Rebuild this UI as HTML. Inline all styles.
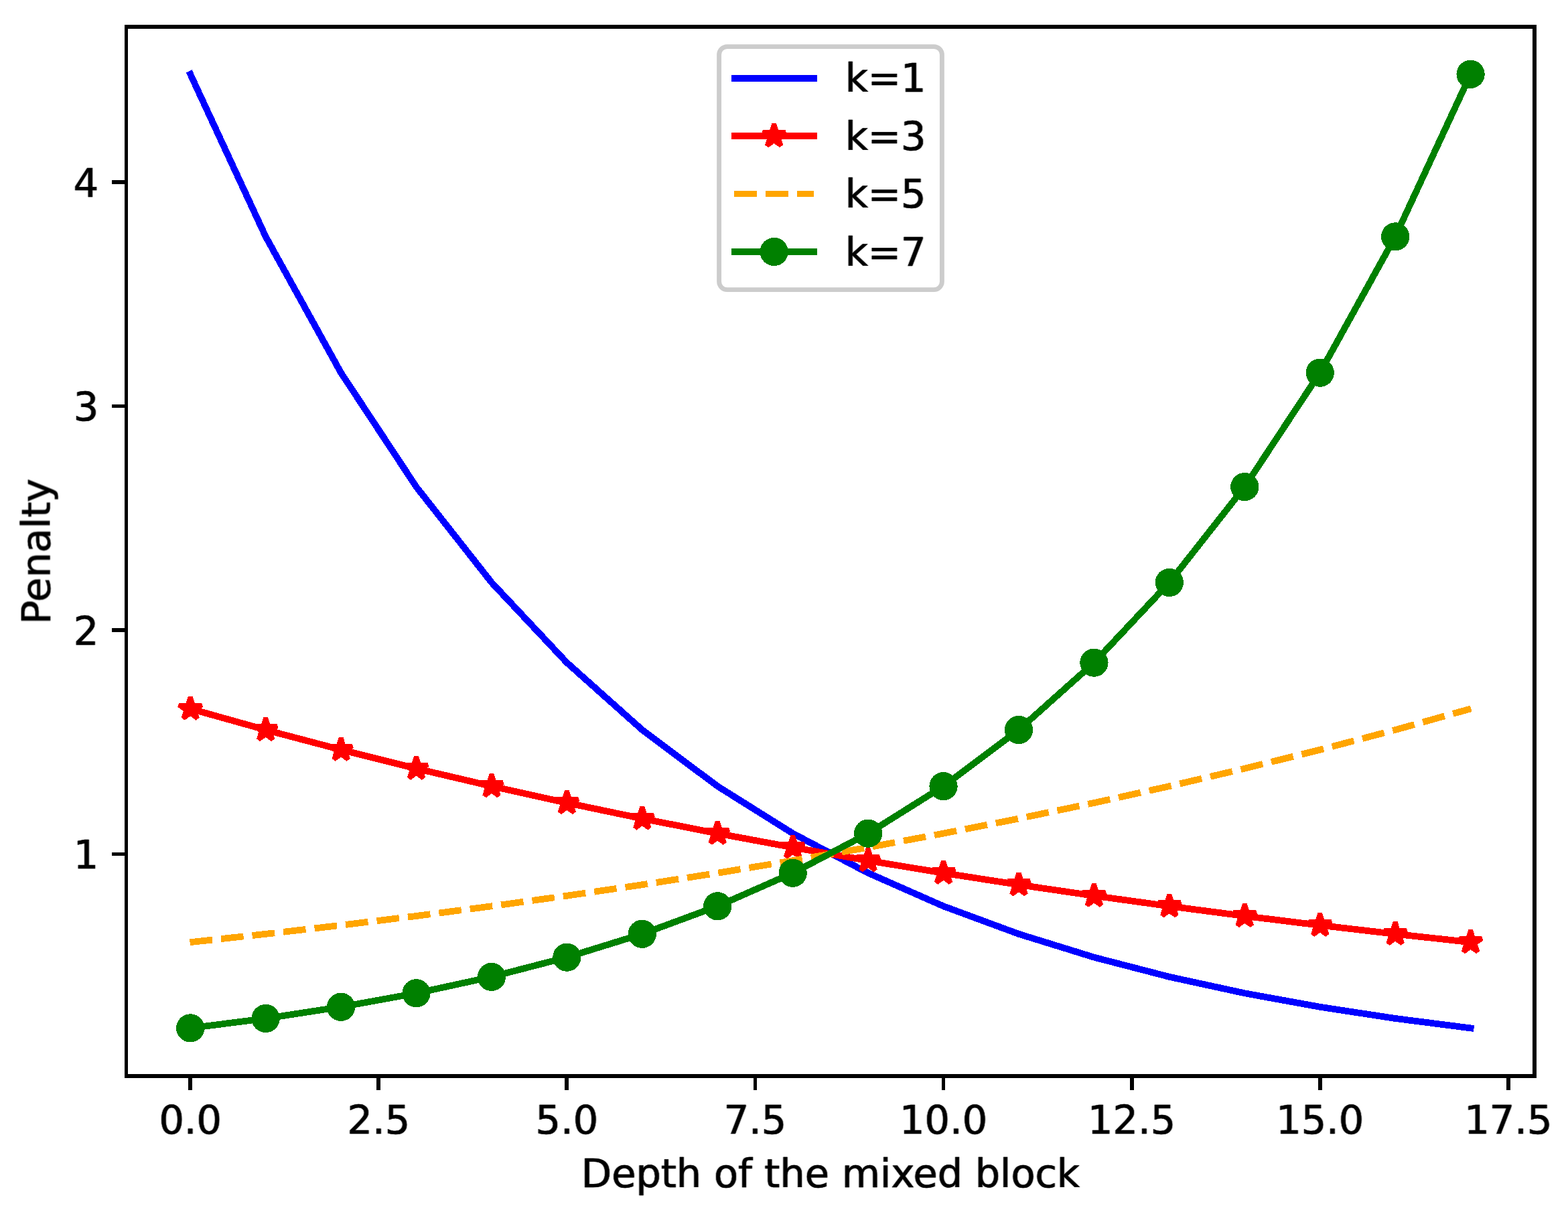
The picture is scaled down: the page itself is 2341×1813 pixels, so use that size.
<!DOCTYPE html>
<html lang="en"><head><meta charset="utf-8"><title>Penalty vs depth of the mixed block</title>
<style>html,body{margin:0;padding:0;background:#fff}body{width:2341px;height:1813px;overflow:hidden}svg{display:block}text{font-family:"DejaVu Sans","Liberation Sans",sans-serif;font-size:58.89px;fill:#000;stroke:#000;stroke-width:0.5px;stroke-linejoin:round;filter:url(#hb)}</style></head><body>
<svg width="2341" height="1813" viewBox="0 0 2341 1813">
<defs><filter id="hb" x="-5%" y="-25%" width="110%" height="150%" color-interpolation-filters="sRGB"><feMorphology operator="dilate" radius="1 0" result="d"/><feComponentTransfer in="d" result="e"><feFuncA type="linear" slope="0.3"/></feComponentTransfer><feMerge><feMergeNode in="e"/><feMergeNode in="SourceGraphic"/></feMerge></filter></defs>
<rect width="2341" height="1813" fill="#fff"/>
<g fill="#000" shape-rendering="crispEdges">
<rect x="281" y="1607" width="6" height="21"/>
<rect x="562" y="1607" width="6" height="21"/>
<rect x="843" y="1607" width="6" height="21"/>
<rect x="1125" y="1607" width="5" height="21"/>
<rect x="1406" y="1607" width="5" height="21"/>
<rect x="1687" y="1607" width="6" height="21"/>
<rect x="1968" y="1607" width="6" height="21"/>
<rect x="2249" y="1607" width="6" height="21"/>
<rect x="167" y="1273" width="21" height="5"/>
<rect x="167" y="938" width="21" height="6"/>
<rect x="167" y="604" width="21" height="5"/>
<rect x="167" y="269" width="21" height="6"/>
</g>
<g text-anchor="middle">
<text x="284.22" y="1692.6">0.0</text>
<text x="565.3" y="1692.6">2.5</text>
<text x="846.38" y="1692.6">5.0</text>
<text x="1127.47" y="1692.6">7.5</text>
<text x="1408.55" y="1692.6">10.0</text>
<text x="1689.63" y="1692.6">12.5</text>
<text x="1970.72" y="1692.6">15.0</text>
<text x="2251.8" y="1692.6">17.5</text>
</g>
<g text-anchor="end">
<text x="147.3" y="1297.35">1</text>
<text x="147.3" y="962.84">2</text>
<text x="147.3" y="628.32">3</text>
<text x="147.3" y="293.81">4</text>
</g>
<text x="1239.9" y="1772.6" text-anchor="middle">Depth of the mixed block</text>
<text transform="translate(74.5 823.5) rotate(-90)" text-anchor="middle">Penalty</text>
<g fill="none" stroke-width="9.8" stroke-linejoin="round" shape-rendering="crispEdges">
<polyline points="284.22,110.84 396.65,353.37 509.08,556.67 621.52,727.08 733.95,869.92 846.38,989.65 958.82,1090.01 1071.25,1174.14 1183.68,1244.65 1296.12,1303.76 1408.55,1353.31 1520.98,1394.84 1633.42,1429.65 1745.85,1458.83 1858.28,1483.29 1970.72,1503.79 2083.15,1520.98 2195.58,1535.38" stroke="#0000ff" stroke-linecap="square"/>
<polyline points="284.22,1058.5 396.65,1090.01 509.08,1119.72 621.52,1147.73 733.95,1174.14 846.38,1199.04 958.82,1222.51 1071.25,1244.65 1183.68,1265.52 1296.12,1285.2 1408.55,1303.76 1520.98,1321.26 1633.42,1337.75 1745.85,1353.31 1858.28,1367.97 1970.72,1381.8 2083.15,1394.84 2195.58,1407.13" stroke="#ff0000" stroke-linecap="square"/>
</g>
<g fill="#ff0000" stroke="#ff0000" stroke-width="6.9" stroke-linejoin="bevel" shape-rendering="crispEdges">
<path d="M284.22 1040.83 L280.25 1053.04 L267.41 1053.04 L277.8 1060.59 L273.83 1072.8 L284.22 1065.25 L294.6 1072.8 L290.64 1060.59 L301.02 1053.04 L288.19 1053.04Z"/>
<path d="M396.65 1072.34 L392.68 1084.55 L379.85 1084.55 L390.23 1092.1 L386.27 1104.31 L396.65 1096.76 L407.04 1104.31 L403.07 1092.1 L413.46 1084.55 L400.62 1084.55Z"/>
<path d="M509.08 1102.05 L505.12 1114.26 L492.28 1114.26 L502.67 1121.8 L498.7 1134.01 L509.08 1126.47 L519.47 1134.01 L515.5 1121.8 L525.89 1114.26 L513.05 1114.26Z"/>
<path d="M621.52 1130.06 L617.55 1142.27 L604.71 1142.27 L615.1 1149.81 L611.13 1162.02 L621.52 1154.48 L631.9 1162.02 L627.94 1149.81 L638.32 1142.27 L625.48 1142.27Z"/>
<path d="M733.95 1156.47 L729.98 1168.68 L717.15 1168.68 L727.53 1176.22 L723.56 1188.43 L733.95 1180.89 L744.34 1188.43 L740.37 1176.22 L750.76 1168.68 L737.92 1168.68Z"/>
<path d="M846.38 1181.37 L842.42 1193.58 L829.58 1193.58 L839.96 1201.12 L836 1213.33 L846.38 1205.79 L856.77 1213.33 L852.8 1201.12 L863.19 1193.58 L850.35 1193.58Z"/>
<path d="M958.82 1204.84 L954.85 1217.05 L942.01 1217.05 L952.4 1224.6 L948.43 1236.81 L958.82 1229.26 L969.2 1236.81 L965.24 1224.6 L975.62 1217.05 L962.78 1217.05Z"/>
<path d="M1071.25 1226.98 L1067.28 1239.19 L1054.45 1239.19 L1064.83 1246.74 L1060.86 1258.95 L1071.25 1251.4 L1081.64 1258.95 L1077.67 1246.74 L1088.06 1239.19 L1075.22 1239.19Z"/>
<path d="M1183.68 1247.85 L1179.72 1260.06 L1166.88 1260.06 L1177.26 1267.61 L1173.3 1279.82 L1183.68 1272.27 L1194.07 1279.82 L1190.1 1267.61 L1200.49 1260.06 L1187.65 1260.06Z"/>
<path d="M1296.12 1267.53 L1292.15 1279.74 L1279.31 1279.74 L1289.7 1287.29 L1285.73 1299.5 L1296.12 1291.95 L1306.5 1299.5 L1302.54 1287.29 L1312.92 1279.74 L1300.08 1279.74Z"/>
<path d="M1408.55 1286.09 L1404.58 1298.3 L1391.74 1298.3 L1402.13 1305.85 L1398.16 1318.06 L1408.55 1310.51 L1418.94 1318.06 L1414.97 1305.85 L1425.35 1298.3 L1412.52 1298.3Z"/>
<path d="M1520.98 1303.59 L1517.02 1315.8 L1504.18 1315.8 L1514.56 1323.34 L1510.6 1335.55 L1520.98 1328.01 L1531.37 1335.55 L1527.4 1323.34 L1537.79 1315.8 L1524.95 1315.8Z"/>
<path d="M1633.42 1320.08 L1629.45 1332.29 L1616.61 1332.29 L1627 1339.84 L1623.03 1352.05 L1633.42 1344.5 L1643.8 1352.05 L1639.84 1339.84 L1650.22 1332.29 L1637.38 1332.29Z"/>
<path d="M1745.85 1335.64 L1741.88 1347.85 L1729.04 1347.85 L1739.43 1355.39 L1735.46 1367.6 L1745.85 1360.06 L1756.24 1367.6 L1752.27 1355.39 L1762.65 1347.85 L1749.82 1347.85Z"/>
<path d="M1858.28 1350.3 L1854.32 1362.51 L1841.48 1362.51 L1851.86 1370.06 L1847.9 1382.27 L1858.28 1374.72 L1868.67 1382.27 L1864.7 1370.06 L1875.09 1362.51 L1862.25 1362.51Z"/>
<path d="M1970.72 1364.13 L1966.75 1376.34 L1953.91 1376.34 L1964.3 1383.89 L1960.33 1396.09 L1970.72 1388.55 L1981.1 1396.09 L1977.13 1383.89 L1987.52 1376.34 L1974.68 1376.34Z"/>
<path d="M2083.15 1377.17 L2079.18 1389.38 L2066.34 1389.38 L2076.73 1396.92 L2072.76 1409.13 L2083.15 1401.59 L2093.53 1409.13 L2089.57 1396.92 L2099.95 1389.38 L2087.12 1389.38Z"/>
<path d="M2195.58 1389.46 L2191.61 1401.67 L2178.78 1401.67 L2189.16 1409.22 L2185.2 1421.43 L2195.58 1413.88 L2205.97 1421.43 L2202 1409.22 L2212.39 1401.67 L2199.55 1401.67Z"/>
</g>
<g fill="none" stroke-width="9.8" stroke-linejoin="round" shape-rendering="crispEdges">
<polyline points="283.52,1407.21 396.65,1394.84 509.08,1381.8 621.52,1367.97 733.95,1353.31 846.38,1337.75 958.82,1321.26 1071.25,1303.76 1183.68,1285.2 1296.12,1265.52 1408.55,1244.65 1520.98,1222.51 1633.42,1199.04 1745.85,1174.14 1858.28,1147.73 1970.72,1119.72 2083.15,1090.01 2196.26,1058.31" stroke="#ffa500" stroke-dasharray="33.7 13.1"/>
<polyline points="284.22,1535.38 396.65,1520.98 509.08,1503.79 621.52,1483.29 733.95,1458.83 846.38,1429.65 958.82,1394.84 1071.25,1353.31 1183.68,1303.76 1296.12,1244.65 1408.55,1174.14 1520.98,1090.01 1633.42,989.65 1745.85,869.92 1858.28,727.08 1970.72,556.67 2083.15,353.37 2195.58,110.84" stroke="#008000" stroke-linecap="square"/>
</g>
<g fill="#008000" shape-rendering="crispEdges">
<circle cx="284.22" cy="1535.38" r="21.12"/>
<circle cx="396.65" cy="1520.98" r="21.12"/>
<circle cx="509.08" cy="1503.79" r="21.12"/>
<circle cx="621.52" cy="1483.29" r="21.12"/>
<circle cx="733.95" cy="1458.83" r="21.12"/>
<circle cx="846.38" cy="1429.65" r="21.12"/>
<circle cx="958.82" cy="1394.84" r="21.12"/>
<circle cx="1071.25" cy="1353.31" r="21.12"/>
<circle cx="1183.68" cy="1303.76" r="21.12"/>
<circle cx="1296.12" cy="1244.65" r="21.12"/>
<circle cx="1408.55" cy="1174.14" r="21.12"/>
<circle cx="1520.98" cy="1090.01" r="21.12"/>
<circle cx="1633.42" cy="989.65" r="21.12"/>
<circle cx="1745.85" cy="869.92" r="21.12"/>
<circle cx="1858.28" cy="727.08" r="21.12"/>
<circle cx="1970.72" cy="556.67" r="21.12"/>
<circle cx="2083.15" cy="353.37" r="21.12"/>
<circle cx="2195.58" cy="110.84" r="21.12"/>
</g>
<g fill="#000" shape-rendering="crispEdges">
<rect x="186" y="37" width="5" height="1573"/>
<rect x="2288" y="37" width="6" height="1573"/>
<rect x="186" y="37" width="2108" height="6"/>
<rect x="186" y="1604" width="2108" height="6"/>
</g>
<rect x="1073.6" y="69.6" width="332.8" height="363" rx="12" ry="12" fill="#fff" fill-opacity="0.8" stroke="#cccccc" stroke-width="6.9"/>
<g fill="none" stroke-width="9.8" shape-rendering="crispEdges">
<line x1="1096.8" y1="116.9" x2="1214.6" y2="116.9" stroke="#0000ff" stroke-linecap="square"/>
<line x1="1096.8" y1="203.2" x2="1214.6" y2="203.2" stroke="#ff0000" stroke-linecap="square"/>
<line x1="1096.1" y1="289.5" x2="1215.3" y2="289.5" stroke="#ffa500" stroke-dasharray="33.7 13.1"/>
<line x1="1096.8" y1="376" x2="1214.6" y2="376" stroke="#008000" stroke-linecap="square"/>
</g>
<path d="M1155.7 185.53 L1151.73 197.74 L1138.89 197.74 L1149.28 205.29 L1145.31 217.5 L1155.7 209.95 L1166.09 217.5 L1162.12 205.29 L1172.51 197.74 L1159.67 197.74Z" fill="#ff0000" stroke="#ff0000" stroke-width="6.9" stroke-linejoin="bevel" shape-rendering="crispEdges"/>
<circle cx="1155.7" cy="376" r="21.12" fill="#008000" shape-rendering="crispEdges"/>
<text x="1261.7" y="137.1">k=1</text>
<text x="1261.7" y="223.6">k=3</text>
<text x="1261.7" y="310.1">k=5</text>
<text x="1261.7" y="396.8">k=7</text>
</svg></body></html>
